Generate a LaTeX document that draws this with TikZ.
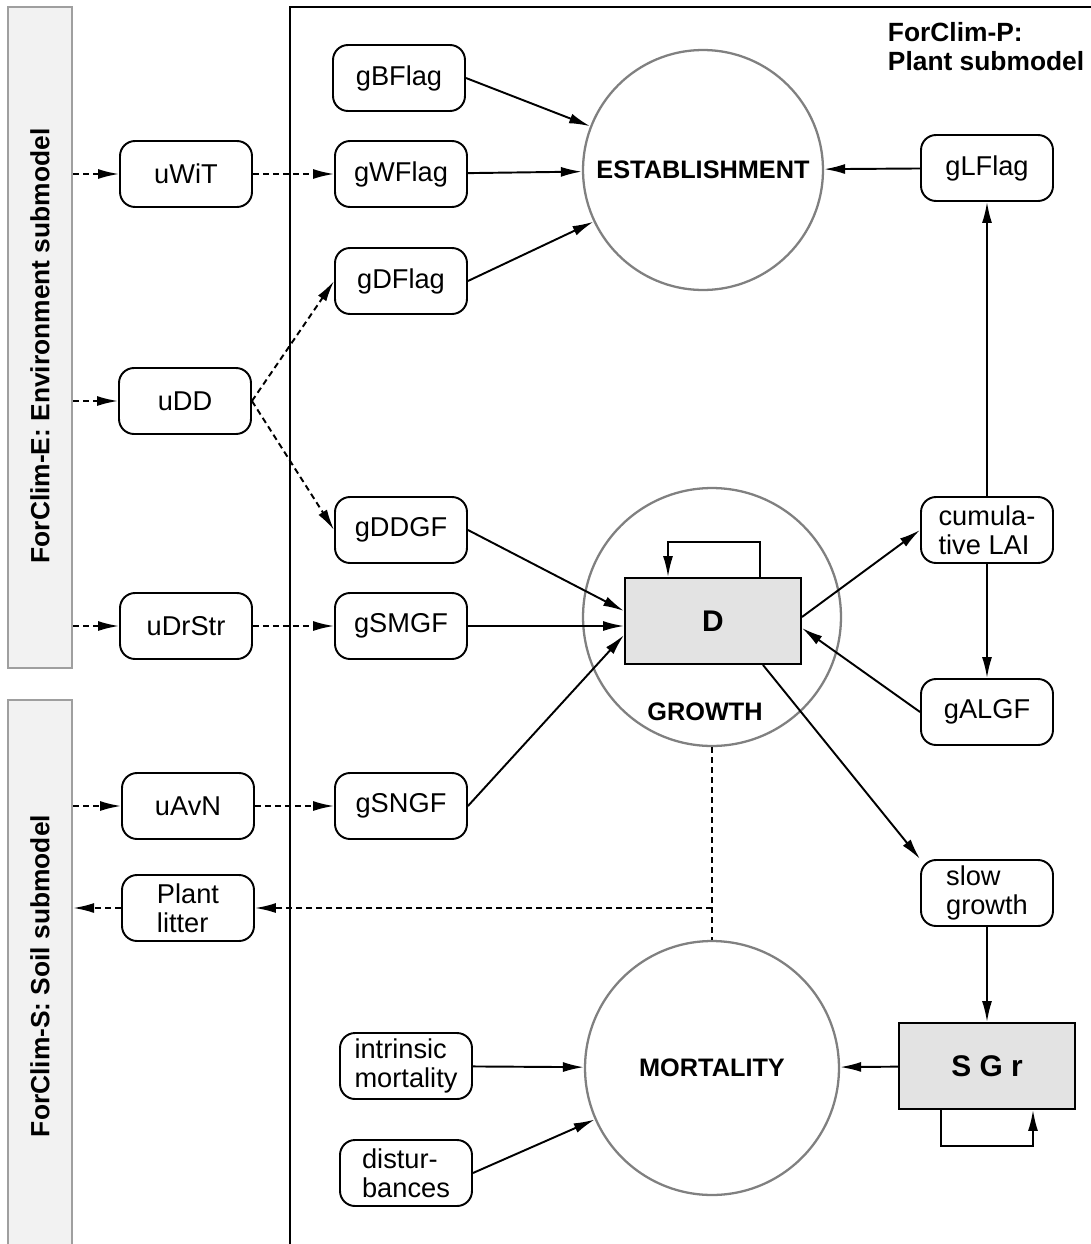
\documentclass[tikz,border=0pt]{standalone}
\usepackage{fontspec}
\setmainfont{Liberation Sans}
\usetikzlibrary{arrows.meta, positioning}

\begin{document}
\begin{tikzpicture}[x=0.02cm, y=-0.02cm, line width=1.1pt,
		>={Latex[length=4.2mm,width=2mm]},
		var/.style={draw, rounded corners=0.3cm, minimum width=2.64cm, minimum height=1.32cm, inner sep=2pt, align=left, font=\fontsize{15.5}{16.5}\selectfont},
		proc/.style={draw=gray, circle, line width=1.3pt, inner sep=0pt, font=\bfseries\fontsize{14.4}{17}\selectfont},
		state/.style={draw, fill=gray!22, minimum width=3.52cm, minimum height=1.72cm, font=\bfseries\fontsize{17}{20}\selectfont},
		strip/.style={draw=gray!75, fill=gray!10, line width=1.3pt, minimum width=1.28cm},
		title/.style={font=\bfseries\fontsize{15}{16.5}\selectfont},
		dotted flow/.style={->, dash pattern=on 0.12cm off 0.08cm}]
		\useasboundingbox (0,0) rectangle (1091,1244);
		
		% submodels
		\node[strip, minimum height=13.22cm] (envstrip) at (40,337.5) {};
		\node[strip, minimum height=11.2cm] (soilstrip) at (40,980) {};
		\node[title, rotate=90] (envlbl) at (40,346) {ForClim-E: Environment submodel};
		\node[title, rotate=90] (soillbl) at (40,976) {ForClim-S: Soil submodel};
		\draw (1091,7) -- (290,7) -- (290,1244);
		\node[title, anchor=north west, align=left, inner sep=0pt] (plantlbl) at (887,21) {ForClim-P:\\Plant submodel};
		
		% driving variables
		\node[var] (uWiT) at (186,174) {uWiT};
		\node[var] (uDD) at (185,401) {uDD};
		\node[var] (uDrStr) at (186,626) {uDrStr};
		\node[var] (uAvN) at (188,806) {uAvN};
		\node[var] (litter) at (188,908) {Plant\\litter};
		
		\node[var] (gBFlag) at (399,78) {gBFlag};
		\node[var] (gWFlag) at (401,174) {gWFlag};
		\node[var] (gDFlag) at (401,281) {gDFlag};
		\node[var] (gDDGF) at (401,530) {gDDGF};
		\node[var] (gSMGF) at (401,626) {gSMGF};
		\node[var] (gSNGF) at (401,806) {gSNGF};
		\node[var] (intrmort) at (406,1066) {intrinsic\\mortality};
		\node[var] (disturb) at (406,1173) {distur-\\bances};
		
		\node[var] (gLFlag) at (987,168) {gLFlag};
		\node[var] (cumLAI) at (987,530) {cumula-\\tive LAI};
		\node[var] (gALGF) at (987,712) {gALGF};
		\node[var] (slowgr) at (987,893) {slow\\growth};
		
		% processes and states
		\node[proc, minimum size=4.8cm] (estab) at (703,170) {ESTABLISHMENT};
		\node[proc, minimum size=5.16cm] (growth) at (712,617) {};
		\node[state] (D) at (713,621) {D};
		\node[title, font=\bfseries\fontsize{14.4}{17}\selectfont] (growthlbl) at (705,712) {GROWTH};
		\node[proc, minimum size=5.08cm] (mort) at (712,1068) {MORTALITY};
		\node[state] (SGr) at (987,1066) {S G r};
		
		% dashed links
		\draw[dotted flow] (uWiT -| envstrip.east) -- (uWiT);
		\draw[dotted flow] (uDD -| envstrip.east) -- (uDD);
		\draw[dotted flow] (uDrStr -| envstrip.east) -- (uDrStr);
		\draw[dotted flow] (uAvN -| soilstrip.east) -- (uAvN);
		\draw[dotted flow] (litter) -- (litter -| soilstrip.east);
		\draw[dotted flow] (uWiT) -- (gWFlag);
		\draw[dotted flow] (uDD.east) -- (gDFlag.west);
		\draw[dotted flow] (uDD.east) -- (gDDGF.west);
		\draw[dotted flow] (uDrStr) -- (gSMGF);
		\draw[dotted flow] (uAvN) -- (gSNGF);
		\coordinate (junc) at (growth.south |- litter);
		\draw[dash pattern=on 0.12cm off 0.08cm] (growth.south) -- (mort.north);
		\draw[dotted flow] (junc) -- (litter);
		
		% solid links
		\draw[->] (gBFlag.east) -- (estab);
		\draw[->] (gWFlag) -- (estab);
		\draw[->] (gDFlag.east) -- (estab);
		\draw[->] (gLFlag) -- (estab);
		\draw[->] (cumLAI) -- (gLFlag);
		\draw[->] (cumLAI) -- (gALGF);
		\draw[->] (gDDGF.east) -- ([yshift=0.2cm]D.west);
		\draw[->] (gSMGF) -- (gSMGF -| D.west);
		\draw[->] (gSNGF.east) -- ([yshift=-0.28cm]D.west);
		\draw[->] ([yshift=0.08cm]D.east) -- (cumLAI.west);
		\draw[->] (gALGF.west) -- ([yshift=-0.14cm]D.east);
		\draw[->] ([xshift=1cm]D.south) -- (slowgr.north west);
		\draw[->] (slowgr) -- (SGr);
		\draw[->] (SGr) -- (mort);
		\draw[->] (intrmort) -- (mort);
		\draw[->] (disturb.east) -- (mort);
		\draw[->] ([xshift=0.94cm]D.north) -- ++(0,-35) -| ([xshift=-0.9cm]D.north);
		\draw[->] ([xshift=-0.92cm]SGr.south) -- ++(0,36) -| ([xshift=0.92cm]SGr.south);
		
\end{tikzpicture}
\end{document}
